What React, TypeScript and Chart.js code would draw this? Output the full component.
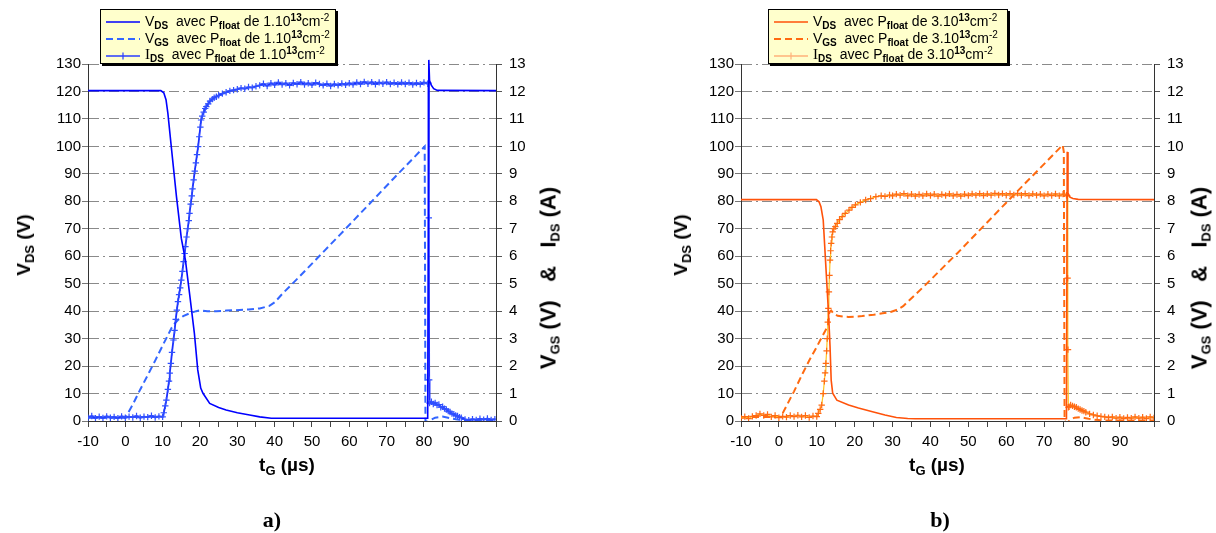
import React, { useEffect, useRef } from 'react';
import { Chart, registerables } from 'chart.js';

Chart.register(...registerables);
Chart.defaults.font.family = "'Liberation Sans', Arial, sans-serif";

type P = [number, number];

// ---------- axis setup ----------
const X_MIN = -10;
const X_MAX_A = 99.3;
const X_MAX_B = 99.0;
const X_LABELS = [-10, 0, 10, 20, 30, 40, 50, 60, 70, 80, 90];
const VDS_MAX = 130;
const RIGHT_MAX = 13;

// ---------- chart a) Pfloat = 1e13 cm-2 ----------
const vdsA: P[] = [
  [-10, 120.3], [9.5, 120.3], [10.3, 119.5], [10.9, 117], [11.4, 112], [12.3, 100], [13.7, 81.7],
  [15.0, 66.5], [16.1, 58.6], [17.2, 46.5], [18.5, 31.9], [19.4, 18.6], [20.2, 12], [20.8, 10.1],
  [22.6, 6.4], [25, 4.9], [27, 4.0], [30, 3.0], [33.3, 2.2], [36, 1.5], [39.1, 1.0], [81.0, 1.0],
  [81.3, 131.5], [81.5, 124], [82, 122.2], [82.6, 121], [83.6, 120.4], [99.3, 120.3],
];

const vgsA: P[] = [
  [-10, 0.12], [0, 0.12], [2, 0.6], [4, 1.15], [6.5, 1.8], [8, 2.2], [10, 2.75], [11.5, 3.15],
  [12.3, 3.37], [13.2, 3.55], [14.1, 3.68], [15.5, 3.82], [17.2, 3.92], [19, 4.0], [20, 4.03],
  [22, 4.0], [24.4, 4.0], [27, 4.02], [30.6, 4.04], [33, 4.06], [36, 4.1], [38.6, 4.19], [40, 4.32],
  [42.2, 4.65], [46.6, 5.25], [57.4, 6.77], [65, 7.85], [72, 8.85], [80.2, 10.0], [80.4, 0.0],
  [81.3, -0.05], [82, 0.05], [83, 0.12], [85, 0.16], [87, 0.1], [89, 0.05], [92, 0.03], [99.3, 0.03],
];

const idsA: P[] = [
  [-10, 0.12], [-9, 0.18], [-8, 0.1], [-7, 0.16], [-6, 0.11], [-5, 0.17], [-4, 0.12], [-3, 0.15],
  [-2, 0.1], [-1, 0.17], [0, 0.12], [1, 0.16], [2, 0.13], [3, 0.18], [4, 0.12], [5, 0.16],
  [6, 0.14], [7, 0.19], [8, 0.13], [9, 0.17], [10, 0.15],
  [10.3, 0.3], [10.7, 0.55], [11.0, 0.76], [11.4, 1.15], [11.7, 1.45], [11.9, 1.74], [12.2, 2.1],
  [12.5, 2.5], [12.9, 2.95], [13.2, 3.3], [13.5, 3.7], [13.8, 4.04], [14.1, 4.35], [14.4, 4.6],
  [14.7, 4.85], [15.0, 5.13], [15.3, 5.45], [15.6, 5.8], [15.9, 6.1], [16.1, 6.35], [16.4, 6.7],
  [16.7, 7.0], [17.0, 7.3], [17.2, 7.56], [17.5, 7.9], [17.8, 8.2], [18.0, 8.45], [18.3, 8.78],
  [18.6, 9.1], [18.9, 9.4], [19.2, 9.7], [19.5, 9.99], [19.8, 10.35], [20.1, 10.7], [20.3, 10.96],
  [20.6, 11.1], [21.0, 11.25], [21.4, 11.38], [21.7, 11.45], [22.2, 11.55], [22.7, 11.65],
  [23.3, 11.72], [23.8, 11.77], [24.4, 11.81], [25, 11.86], [26, 11.92], [27, 11.97], [28, 12.02],
  [29, 12.05], [30, 12.08], [31, 12.12], [32, 12.1], [33, 12.16], [34, 12.14], [35, 12.19],
  [36, 12.22], [37, 12.28], [38, 12.2], [39, 12.3], [40, 12.24], [41, 12.33], [42, 12.25],
  [43, 12.3], [44, 12.22], [45, 12.31], [46, 12.26], [47, 12.34], [48, 12.25], [49, 12.3],
  [50, 12.24], [51, 12.32], [52, 12.27], [53, 12.22], [54, 12.28], [55, 12.2], [56, 12.27],
  [57, 12.22], [58, 12.29], [59, 12.24], [60, 12.3], [61, 12.25], [62, 12.33], [63, 12.27],
  [64, 12.35], [65, 12.28], [66, 12.34], [67, 12.26], [68, 12.33], [69, 12.28], [70, 12.34],
  [71, 12.27], [72, 12.32], [73, 12.26], [74, 12.33], [75, 12.27], [76, 12.32], [77, 12.25],
  [78, 12.31], [79, 12.26], [80, 12.33], [81, 12.28], [81.2, 12.3], [81.3, 7.4], [81.4, 1.5],
  [81.5, 0.65], [82, 0.7], [82.5, 0.62], [83, 0.66], [83.5, 0.58], [84, 0.6], [84.5, 0.5],
  [85, 0.52], [85.5, 0.45], [86, 0.42], [86.5, 0.36], [87, 0.33], [87.5, 0.27], [88, 0.25],
  [88.5, 0.2], [89, 0.18], [89.5, 0.14], [90, 0.12], [91, 0.06], [92, 0.03], [93, 0.07],
  [94, 0.04], [95, 0.08], [96, 0.05], [97, 0.09], [98, 0.04], [99, 0.07],
];

// ---------- chart b) Pfloat = 3e13 cm-2 ----------
const vdsB: P[] = [
  [-10, 80.6], [9.9, 80.6], [10.6, 79.8], [11.1, 78], [11.7, 73.2], [12.1, 63.5], [12.6, 51.3],
  [13.1, 39.2], [13.5, 27.1], [13.8, 14.9], [14.2, 10.1], [15.3, 7.6], [18.4, 5.8], [21, 4.7],
  [24.7, 3.4], [28, 2.2], [31, 1.3], [34, 0.9], [36, 0.8], [75.9, 0.8], [76.1, 98], [76.3, 83],
  [76.8, 81.5], [77.6, 81.0], [79, 80.7], [99, 80.6],
];

const vgsB: P[] = [
  [-10, 0.15], [0.5, 0.15], [2, 0.55], [4, 1.08], [6.3, 1.74], [8, 2.2], [10, 2.7], [11.5, 3.1],
  [12.9, 3.45], [13.3, 3.95], [13.8, 4.02], [14.5, 3.9], [15.5, 3.83], [17, 3.8], [18.4, 3.79],
  [20, 3.8], [22, 3.82], [25, 3.87], [27.4, 3.92], [29.5, 3.97], [31, 4.04], [32.8, 4.18],
  [33.6, 4.29], [38.2, 4.89], [47.1, 6.11], [60, 7.95], [74.9, 10.05], [75.2, 9.8], [75.4, 0.0],
  [76, -0.08], [77, 0.05], [78, 0.12], [79.5, 0.14], [81, 0.1], [83, 0.05], [86, 0.02], [99, 0.02],
];

const idsB: P[] = [
  [-10, 0.1], [-9, 0.16], [-8, 0.09], [-7, 0.17], [-6, 0.2], [-5, 0.26], [-4, 0.2], [-3, 0.24],
  [-2, 0.15], [-1, 0.2], [0, 0.12], [1, 0.17], [2, 0.14], [3, 0.2], [4, 0.16], [5, 0.21],
  [6, 0.15], [7, 0.2], [8, 0.13], [9, 0.18], [10, 0.16],
  [10.4, 0.28], [10.9, 0.42], [11.3, 0.58], [11.7, 1.0], [12.0, 1.45], [12.2, 1.75], [12.4, 2.1],
  [12.6, 2.55], [12.75, 3.0], [12.9, 3.6], [13.05, 4.1], [13.2, 4.7], [13.35, 5.3], [13.5, 5.86],
  [13.65, 6.2], [13.8, 6.47], [14.0, 6.7], [14.2, 6.89], [14.5, 7.0], [14.9, 7.08], [15.4, 7.2],
  [16, 7.33], [16.7, 7.44], [17.5, 7.56], [18.5, 7.68], [19.3, 7.78], [20.2, 7.87], [21.5, 7.96],
  [22.9, 8.05], [24.2, 8.1], [25.6, 8.17], [27, 8.2], [28, 8.18], [29.2, 8.23], [30, 8.2],
  [31, 8.26], [32, 8.22], [33, 8.28], [34, 8.2], [35, 8.26], [36, 8.19], [37, 8.25], [38, 8.2],
  [39, 8.27], [40, 8.21], [41, 8.26], [42, 8.19], [43, 8.25], [44, 8.21], [45, 8.27], [46, 8.2],
  [47, 8.25], [48, 8.19], [49, 8.26], [50, 8.21], [51, 8.27], [52, 8.22], [53, 8.28], [54, 8.21],
  [55, 8.27], [56, 8.22], [57, 8.29], [58, 8.23], [59, 8.28], [60, 8.22], [61, 8.28], [62, 8.23],
  [63, 8.29], [64, 8.22], [65, 8.28], [66, 8.21], [67, 8.27], [68, 8.22], [69, 8.26], [70, 8.2],
  [71, 8.26], [72, 8.21], [73, 8.27], [74, 8.2], [75, 8.26], [75.9, 8.22], [76.1, 8.2],
  [76.2, 5.2], [76.3, 2.6], [76.4, 0.5], [76.6, 0.52], [77, 0.58], [77.5, 0.55], [78, 0.52],
  [78.5, 0.5], [79, 0.45], [79.5, 0.42], [80, 0.38], [80.5, 0.36], [81, 0.32], [82, 0.26],
  [83, 0.22], [84, 0.19], [85, 0.17], [86, 0.15], [87, 0.12], [88, 0.15], [89, 0.1], [90, 0.14],
  [91, 0.09], [92, 0.13], [93, 0.1], [94, 0.15], [95, 0.1], [96, 0.14], [97, 0.09], [98, 0.15],
  [99, 0.11],
];

const COLORS_A = { vds: '#0000ff', vgs: '#3366ff', ids: '#1a2dff', idsPt: '#3050ff', idsLegend: '#2a3dff', idsW: 1.8 };
const COLORS_B = { vds: '#ff520a', vgs: '#ff6a10', ids: '#ffc41f', idsPt: '#ff6a13', idsLegend: '#ffb27a', idsW: 1.2 };

const toXY = (a: P[]) => a.map(([x, y]) => ({ x, y }));

function buildConfig(
  vds: P[], vgs: P[], ids: P[], colors: typeof COLORS_A, xMax: number,
  padLeft: number, padRight: number,
): any {
  const font = { size: 15, family: "'Liberation Sans', Arial, sans-serif" };
  return {
    type: 'line',
    data: {
      datasets: [
        {
          label: 'VDS', data: toXY(vds), yAxisID: 'yL', borderColor: colors.vds, borderWidth: 1.6,
          pointRadius: 0, tension: 0, order: 1, clip: false,
        },
        {
          label: 'IDS', data: toXY(ids), yAxisID: 'yR', borderColor: colors.ids, borderWidth: colors.idsW,
          pointStyle: 'cross', pointRadius: 3.2, pointBorderWidth: 1.2, pointBorderColor: colors.idsPt,
          pointBackgroundColor: colors.idsPt, tension: 0, order: 2,
        },
        {
          label: 'VGS', data: toXY(vgs), yAxisID: 'yR', borderColor: colors.vgs, borderWidth: 2,
          borderDash: [7, 4], pointRadius: 0, tension: 0, order: 3,
        },
      ],
    },
    options: {
      animation: false,
      responsive: false,
      maintainAspectRatio: false,
      layout: { padding: { left: padLeft, right: padRight, top: 64, bottom: 82 } },
      plugins: { legend: { display: false }, tooltip: { enabled: false }, title: { display: false } },
      scales: {
        x: {
          type: 'linear', min: X_MIN, max: xMax,
          afterFit: (s: any) => { s.height = 30; },
          ticks: {
            stepSize: 5, autoSkip: false, maxRotation: 0, padding: 6, color: '#000', font,
            callback: (v: number) => (X_LABELS.includes(v) ? String(v) : ''),
          },
          grid: { drawOnChartArea: false, drawTicks: true, tickLength: 6, tickColor: '#444', tickWidth: 1, tickBorderDash: [] },
          border: { display: true, color: '#333', width: 1 },
        },
        yL: {
          type: 'linear', position: 'left', min: 0, max: VDS_MAX,
          afterFit: (s: any) => { s.width = 60; },
          ticks: { stepSize: 10, padding: 1, color: '#000', font },
          grid: {
            drawOnChartArea: true, drawTicks: true, tickLength: 6, tickBorderDash: [],
            color: (c: any) => (c.tick && c.tick.value === 0 ? 'rgba(0,0,0,0)' : '#8a8a8a'),
            tickColor: '#777', lineWidth: 1,
          },
          border: { display: true, color: '#333', width: 1, dash: [10, 4, 2, 4] },
        },
        yR: {
          type: 'linear', position: 'right', min: 0, max: RIGHT_MAX,
          afterFit: (s: any) => { s.width = 50; },
          ticks: { stepSize: 1, padding: 7, color: '#000', font },
          grid: { drawOnChartArea: false, drawTicks: true, tickLength: 6, tickColor: '#555', tickBorderDash: [] },
          border: { display: true, color: '#333', width: 1 },
        },
      },
    },
  };
}

function ChartCanvas({ cfg, left }: { cfg: () => any; left: number }) {
  const ref = useRef<HTMLCanvasElement | null>(null);
  useEffect(() => {
    if (!ref.current) return;
    const chart = new Chart(ref.current, cfg());
    return () => chart.destroy();
  }, []);
  return (
    <canvas ref={ref} width={608} height={533}
      style={{ position: 'absolute', left, top: 0, width: 608, height: 533 }} />
  );
}

const subS: React.CSSProperties = { fontSize: 10, fontWeight: 700, position: 'relative', top: 3 };
const supS: React.CSSProperties = { fontSize: 10, fontWeight: 700, position: 'relative', top: -5 };
const supN: React.CSSProperties = { fontSize: 10, position: 'relative', top: -5 };

function Sample({ color, dash, cross }: { color: string; dash?: boolean; cross?: boolean }) {
  return (
    <svg width={34} height={12} style={{ display: 'inline-block', verticalAlign: 'middle', marginRight: 5 }}>
      <line x1={0} y1={6} x2={34} y2={6} stroke={color} strokeWidth={dash ? 2 : 1.5}
        strokeDasharray={dash ? '7 4' : undefined} />
      {cross && <line x1={17} y1={2.5} x2={17} y2={9.5} stroke={color} strokeWidth={1.2} />}
    </svg>
  );
}

function Legend({ left, colors, dens, width }: { left: number; colors: typeof COLORS_A; dens: string; width: number }) {
  const row = (key: string, sample: React.ReactNode, q: React.ReactNode, s: string) => (
    <div key={key} style={{ height: 16.7, lineHeight: '16.7px', whiteSpace: 'nowrap' }}>
      {sample}
      {q}<span style={subS}>{s}</span>&nbsp; avec P<span style={subS}>float</span> de {dens}.10
      <span style={supS}>13</span>cm<span style={supN}>-2</span>
    </div>
  );
  return (
    <div style={{
      position: 'absolute', left, top: 9, width, height: 55, boxSizing: 'border-box',
      background: '#ffffcc', border: '1px solid #000', boxShadow: '2px 2px 0 #000',
      fontFamily: "'Liberation Sans', Arial, sans-serif", fontSize: 14, color: '#000',
      padding: '3px 0 0 5px',
    }}>
      {row('v', <Sample color={colors.vds} />, 'V', 'DS')}
      {row('g', <Sample color={colors.vgs} dash />, 'V', 'GS')}
      {row('i', <Sample color={colors.idsLegend} cross />,
        <span style={{ fontFamily: "'Liberation Serif', serif", fontSize: 15 }}>I</span>, 'DS')}
    </div>
  );
}

const titleSub: React.CSSProperties = { fontSize: 13, position: 'relative', top: 4 };

function VTitle({ x, y, size, children }: { x: number; y: number; size?: number; children: React.ReactNode }) {
  return (
    <div style={{
      position: 'absolute', left: x, top: y, transform: 'translate(-50%, -50%) rotate(-90deg)',
      whiteSpace: 'nowrap', fontFamily: "'Liberation Sans', Arial, sans-serif", fontWeight: 700,
      fontSize: size || 19, color: '#000', lineHeight: '22px',
    }}>{children}</div>
  );
}

function HTitle({ x, y, children, serif, size }: { x: number; y: number; children: React.ReactNode; serif?: boolean; size?: number }) {
  return (
    <div style={{
      position: 'absolute', left: x, top: y, transform: 'translate(-50%, -50%)',
      whiteSpace: 'nowrap', fontFamily: serif ? "'Liberation Serif', 'Times New Roman', serif" : "'Liberation Sans', Arial, sans-serif",
      fontWeight: 700, fontSize: size || 19, color: '#000', lineHeight: '22px',
    }}>{children}</div>
  );
}

const rightTitle = (
  <>V<span style={titleSub}>GS</span> (V)&nbsp;&nbsp;&nbsp;&amp;&nbsp;&nbsp;&nbsp;I<span style={titleSub}>DS</span> (A)</>
);

export default function App() {
  return (
    <div style={{ position: 'absolute', left: 0, top: 0, width: 1216, height: 533, background: '#fff', overflow: 'hidden' }}>
      <ChartCanvas left={0} cfg={() => buildConfig(vdsA, vgsA, idsA, COLORS_A, X_MAX_A, 28, 62)} />
      <ChartCanvas left={608} cfg={() => buildConfig(vdsB, vgsB, idsB, COLORS_B, X_MAX_B, 73, 12)} />

      <Legend left={100} colors={COLORS_A} dens="1" width={236} />
      <Legend left={768} colors={COLORS_B} dens="3" width={240} />

      <VTitle x={25} y={245}>V<span style={titleSub}>DS</span> (V)</VTitle>
      <VTitle x={550} y={278} size={22}>{rightTitle}</VTitle>
      <VTitle x={682} y={245}>V<span style={titleSub}>DS</span> (V)</VTitle>
      <VTitle x={1201} y={278} size={22}>{rightTitle}</VTitle>

      <HTitle x={287} y={466}>t<span style={titleSub}>G</span> (µs)</HTitle>
      <HTitle x={937} y={466}>t<span style={titleSub}>G</span> (µs)</HTitle>

      <HTitle x={272} y={520} serif size={22}>a)</HTitle>
      <HTitle x={940} y={520} serif size={22}>b)</HTitle>
    </div>
  );
}
